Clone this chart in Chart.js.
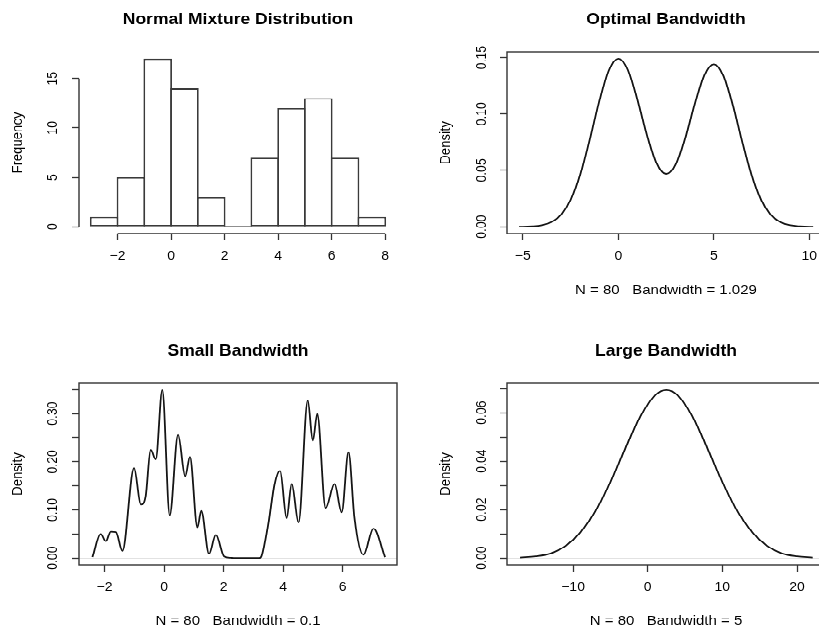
<!DOCTYPE html>
<html>
<head>
<meta charset="utf-8">
<script src="https://cdn.jsdelivr.net/npm/chart.js@4.4.1/dist/chart.umd.min.js"></script>
<style>
  body { margin: 0; overflow: hidden; background: #fff; }
  /* the source figure is slightly squashed vertically, so draw tall and scale down */
  #wrap { position: relative; width: 830px; height: 730px; transform: scaleY(0.865); transform-origin: 0 0; }
  canvas { position: absolute; }
</style>
</head>
<body>
<div id="wrap">
  <canvas id="hist" width="410" height="350" style="left:0px;top:0px"></canvas>
  <canvas id="optimal" width="420" height="350" style="left:410px;top:0px"></canvas>
  <canvas id="small" width="410" height="347" style="left:0px;top:383px"></canvas>
  <canvas id="large" width="420" height="347" style="left:410px;top:383px"></canvas>
</div>
<script>
// histogram of the sample
const binEdges = [-3, -2, -1, 0, 1, 2, 3, 4, 5, 6, 7, 8];
const binCounts = [1, 5, 17, 14, 3, 0, 7, 12, 13, 7, 1];

// density, bw = 1.029
const optX = [-5.2, -5, -4.5, -4, -3.5, -3, -2.5, -2, -1.5, -1, -0.5, 0, 0.5, 1, 1.5, 2, 2.5, 3, 3.5,
              4, 4.5, 5, 5.5, 6, 6.5, 7, 7.5, 8, 8.5, 9, 9.5, 10, 10.2];
const optY = [0.0001, 0.0001, 0.0004, 0.0014, 0.0041, 0.0107, 0.0239, 0.0461, 0.0771, 0.1112, 0.1385,
              0.1490, 0.1389, 0.1125, 0.0811, 0.0564, 0.0469, 0.0553, 0.0785, 0.1088, 0.1342, 0.1440,
              0.1338, 0.1074, 0.0744, 0.0446, 0.0230, 0.0103, 0.0040, 0.0013, 0.0004, 0.0001, 0.0001];

// density, bw = 0.1 (peaks and troughs)
const smallX = [-2.41, -2.13, -1.96, -1.79, -1.62, -1.40, -1.01, -0.78, -0.62, -0.45, -0.28, -0.06, 0.19,
                0.47, 0.71, 0.87, 1.12, 1.25, 1.51, 1.74, 2.02, 2.24, 2.4, 3.2, 3.28, 3.51, 3.71, 3.90,
                4.12, 4.29, 4.52, 4.83, 5.00, 5.15, 5.43, 5.73, 5.97, 6.20, 6.40, 6.70, 7.04, 7.43];
const smallY = [0.002, 0.050, 0.035, 0.055, 0.054, 0.015, 0.187, 0.111, 0.128, 0.225, 0.205, 0.349, 0.089,
                0.256, 0.170, 0.210, 0.064, 0.098, 0.009, 0.048, 0.0035, 0.0005, 0, 0, 0.005, 0.073, 0.152, 0.181,
                0.083, 0.154, 0.074, 0.327, 0.244, 0.299, 0.104, 0.154, 0.095, 0.220, 0.083, 0.007, 0.061, 0.002];

// density, bw = 5
const largeX = [-17.1, -15, -13, -11, -9, -7, -5, -3, -1, 1, 2.5, 4, 6, 8, 10, 12, 14, 16, 18, 20, 22.1];
const largeY = [0.0002, 0.0007, 0.0019, 0.0050, 0.0107, 0.0194, 0.0314, 0.0453, 0.0584, 0.0672, 0.0694,
                0.0672, 0.0584, 0.0453, 0.0314, 0.0194, 0.0107, 0.0050, 0.0019, 0.0007, 0.0002];

const INK = '#333';
const tickFont = {size: 14};
const labFont = {size: 15};

Chart.defaults.font.family = '"Liberation Sans", Arial, Helvetica, sans-serif';
Chart.defaults.color = '#000';
Chart.defaults.animation = false;

// R-ish frame: full box for the density plots, axis lines between end ticks for the histogram
const rFrame = {
    id: 'rFrame',
    afterDraw(chart, args, opts) {
        const {ctx, chartArea: a, scales: {x, y}} = chart;
        ctx.save();
        ctx.strokeStyle = INK;
        ctx.lineWidth = 1.4;
        if (opts.box) {
            ctx.strokeRect(a.left, a.top, a.right - a.left, a.bottom - a.top);
        } else {
            let xt = x.ticks, yt = y.ticks;
            ctx.beginPath();
            ctx.moveTo(x.getPixelForValue(xt[0].value), a.bottom);
            ctx.lineTo(x.getPixelForValue(xt[xt.length - 1].value), a.bottom);
            ctx.moveTo(a.left, y.getPixelForValue(yt[0].value));
            ctx.lineTo(a.left, y.getPixelForValue(yt[yt.length - 1].value));
            ctx.stroke();
        }
        ctx.restore();
    }
};

const minus = (v) => v < 0 ? '\u2212' + (-v) : String(v);

function xScale(min, max, step, title, height, titlePad) {
    return {
        type: 'linear', min: min, max: max, offset: false,
        ticks: {stepSize: step, includeBounds: false, autoSkip: false, maxRotation: 0,
                padding: 10, font: tickFont, callback: minus},
        grid: {drawOnChartArea: false, offset: false, tickLength: 8, tickColor: INK, tickWidth: 1.3},
        border: {display: false},
        title: {display: !!title, text: title, font: labFont, padding: {top: 0, bottom: titlePad}},
        afterFit: (s) => { s.height = height; },
    };
}

function yScale(min, max, step, title, width, pad, titlePad, label, zeroLine) {
    return {
        type: 'linear', min: min, max: max,
        ticks: {stepSize: step, includeBounds: false, autoSkip: false, minRotation: 90, maxRotation: 90,
                crossAlign: 'center', padding: pad, font: tickFont, callback: label},
        grid: {
            drawOnChartArea: zeroLine,
            color: (c) => (zeroLine && c.tick && c.tick.value === 0) ? '#e2e2e2' : 'rgba(0,0,0,0)',
            tickLength: 7, tickColor: INK, tickWidth: 1.3,
        },
        border: {display: false},
        title: {display: true, text: title, font: labFont, padding: {top: titlePad, bottom: 0}},
        afterFit: (s) => { s.width = width; },
    };
}

function baseOptions(title, box, padRight) {
    return {
        responsive: false,
        animation: false,
        layout: {padding: {left: 0, top: 0, bottom: 0, right: padRight}},
        plugins: {
            legend: {display: false},
            tooltip: {enabled: false},
            title: {display: true, text: title, fullSize: false, color: '#000',
                    font: {size: 17.5, weight: 'bold'}, padding: {top: 12.5, bottom: 26.5}},
            rFrame: {box: box},
        },
    };
}

function densityChart(id, title, xs, ys, xr, yr, xlabel, xh, yWidth, yPad, yTitlePad, padRight, yLabel) {
    let options = baseOptions(title, true, padRight);
    options.scales = {
        x: xScale(xr[0], xr[1], xr[2], xlabel, xh[0], xh[1]),
        y: yScale(yr[0], yr[1], yr[2], 'Density', yWidth, yPad, yTitlePad, yLabel, true),
    };
    return new Chart(id, {
        type: 'line',
        data: {datasets: [{
            data: xs.map((x, k) => ({x: x, y: ys[k]})),
            borderColor: '#151515',
            borderWidth: 1.8,
            pointRadius: 0,
            cubicInterpolationMode: 'monotone',
            fill: false,
        }]},
        options: options,
        plugins: [rFrame],
    });
}

window.addEventListener('DOMContentLoaded', () => {
    // histogram
    let histOptions = baseOptions('Normal Mixture Distribution', false, 13);
    histOptions.scales = {
        x: xScale(-3.44, 8.44, 2, '', 80, 0),
        y: yScale(-0.68, 17.68, 5, 'Frequency', 79, 11.2, 9, (v) => String(v), false),
    };
    new Chart('hist', {
        type: 'bar',
        data: {datasets: [{
            data: binCounts.map((c, k) => ({x: (binEdges[k] + binEdges[k + 1]) / 2, y: c})),
            backgroundColor: '#fff',
            borderColor: '#3a3a3a',
            borderWidth: 1.8,
            borderSkipped: false,
            inflateAmount: 0,
            minBarLength: 1.8,
            barPercentage: 1.067,
            categoryPercentage: 1,
        }]},
        options: histOptions,
        plugins: [rFrame],
    });

    const two = (v) => v.toFixed(2);
    densityChart('optimal', 'Optimal Bandwidth', optX, optY, [-5.83, 10.82, 5], [-0.006, 0.155, 0.05],
                 'N = 80   Bandwidth = 1.029', [80, 5.5], 97, 4.4, 27, 5, two);
    densityChart('small', 'Small Bandwidth', smallX, smallY, [-2.86, 7.83, 2], [-0.014, 0.363, 0.05],
                 'N = 80   Bandwidth = 0.1', [77, 3.5], 79, 5.4, 9, 13,
                 (v) => Math.round(v * 100) % 10 === 0 ? v.toFixed(2) : '');
    densityChart('large', 'Large Bandwidth', largeX, largeY, [-18.85, 23.75, 10], [-0.0028, 0.0722, 0.01],
                 'N = 80   Bandwidth = 5', [77, 3.5], 97, 4.4, 27, 5,
                 (v) => Math.round(v * 100) % 2 === 0 ? v.toFixed(2) : '');
});
</script>
</body>
</html>
